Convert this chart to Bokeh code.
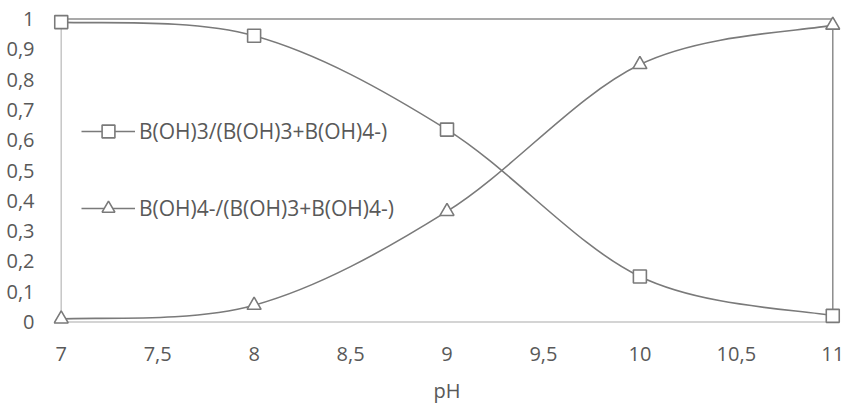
from bokeh.plotting import figure
from bokeh.models import (ColumnDataSource, FixedTicker, CustomJSTickFormatter,
                          Legend, LegendItem, Range1d)
from bokeh.embed import file_html
from bokeh.resources import INLINE

ph = [7, 8, 9, 10, 11]
acid = [0.99, 0.945, 0.635, 0.15, 0.02]
base = [0.01, 0.055, 0.365, 0.85, 0.98]
labels = ["B(OH)3/(B(OH)3+B(OH)4-)", "B(OH)4-/(B(OH)3+B(OH)4-)"]
x_ticks = [7, 7.5, 8, 8.5, 9, 9.5, 10, 10.5, 11]
y_ticks = [0, 0.1, 0.2, 0.3, 0.4, 0.5, 0.6, 0.7, 0.8, 0.9, 1]

FONT = "Open Sans"
FS = "20px"
GRAY = "#7a7a7a"
TXT = "#595959"

p = figure(width=844, height=406, output_backend="svg", toolbar_location=None,
           x_range=Range1d(6.96, 11.04), y_range=Range1d(-0.025, 1.025),
           min_border_left=53, min_border_right=4, min_border_top=11,
           min_border_bottom=75)
p.outline_line_color = None
p.grid.visible = False
p.background_fill_color = "white"

fmt = CustomJSTickFormatter(code="return String(tick).replace('.', ',');")
p.xaxis.ticker = FixedTicker(ticks=x_ticks)
p.yaxis.ticker = FixedTicker(ticks=y_ticks)
for ax in (p.xaxis, p.yaxis):
    ax.formatter = fmt
    ax.axis_line_color = None
    ax.major_tick_line_color = None
    ax.minor_tick_line_color = None
    ax.major_label_text_font = FONT
    ax.major_label_text_font_size = FS
    ax.major_label_text_color = TXT
p.xaxis.major_label_standoff = 11
p.yaxis.major_label_standoff = 13
p.xaxis.axis_label = "pH"
p.xaxis.axis_label_text_font = FONT
p.xaxis.axis_label_text_font_size = FS
p.xaxis.axis_label_text_font_style = "normal"
p.xaxis.axis_label_text_color = TXT
p.xaxis.axis_label_standoff = 13

x0, x1 = x_ticks[0], x_ticks[-1]
y0, y1 = y_ticks[0], y_ticks[-1]
# frame lines
p.segment(x0=[x0, x0], y0=[y0, y0], x1=[x1, x0], y1=[y0, y1], line_color="#c6c6c6", line_width=1.5)
p.segment(x0=[x0, x1], y0=[y1, y0], x1=[x1, x1], y1=[y1, y1], line_color="#8c8c8c", line_width=1.5)


def bez(xs, ys):
    n = len(xs)
    d = dict(x0=[], y0=[], x1=[], y1=[], cx0=[], cy0=[], cx1=[], cy1=[])
    for i in range(n - 1):
        pm = max(i - 1, 0)
        pp = min(i + 2, n - 1)
        d["x0"].append(xs[i]); d["y0"].append(ys[i])
        d["x1"].append(xs[i + 1]); d["y1"].append(ys[i + 1])
        d["cx0"].append(xs[i] + (xs[i + 1] - xs[pm]) / 6)
        d["cy0"].append(ys[i] + (ys[i + 1] - ys[pm]) / 6)
        d["cx1"].append(xs[i + 1] - (xs[pp] - xs[i]) / 6)
        d["cy1"].append(ys[i + 1] - (ys[pp] - ys[i]) / 6)
    return ColumnDataSource(d)


items = []
for ys, mk, lab in ((acid, "square", labels[0]), (base, "triangle", labels[1])):
    br = p.bezier(x0="x0", y0="y0", x1="x1", y1="y1", cx0="cx0", cy0="cy0", cx1="cx1", cy1="cy1",
                  source=bez(ph, ys), line_color=GRAY, line_width=1.6)
    sz = 13 if mk == "square" else 14
    sr = p.scatter(x=ph, y=ys, marker=mk, size=sz, fill_color="white",
                   line_color=GRAY, line_width=1.6)
    items.append(LegendItem(label=lab, renderers=[br, sr], index=0))

leg = Legend(items=items, location=(28, 105), glyph_width=54, glyph_height=32,
             spacing=45, padding=0, margin=0, label_standoff=4,
             border_line_color=None, background_fill_alpha=0,
             label_text_font=FONT, label_text_font_size="21px", label_text_color=TXT)
p.add_layout(leg)

open("out.html", "w").write(file_html(p, INLINE))
